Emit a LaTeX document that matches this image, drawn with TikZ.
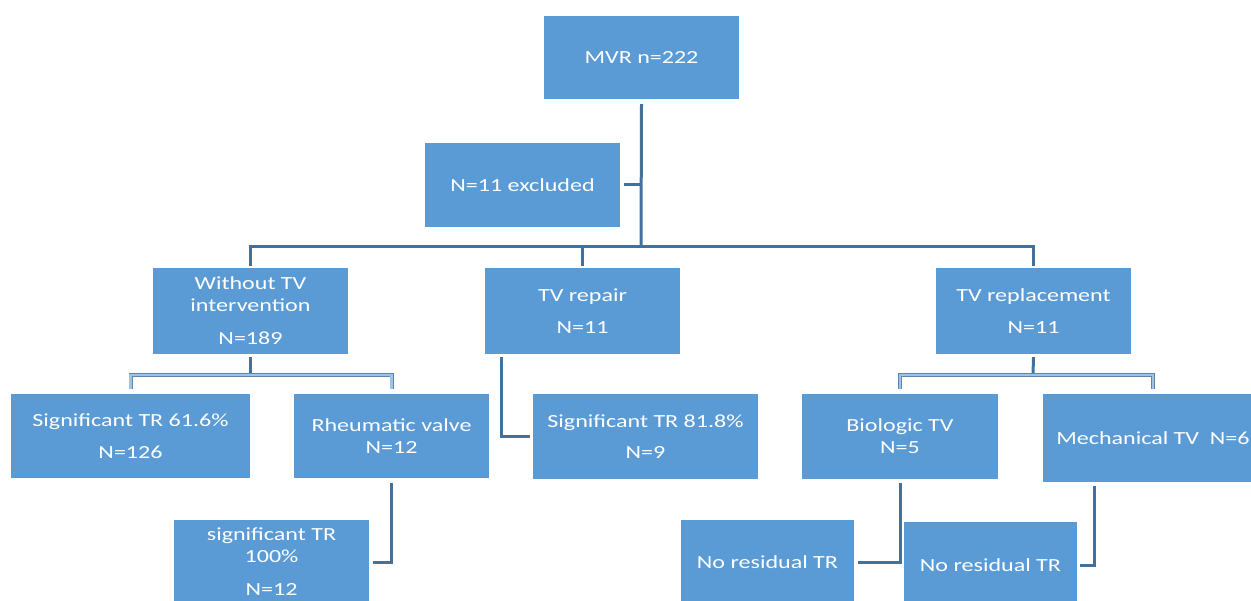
\documentclass[tikz,border=0pt]{standalone}
\usepackage{fontspec}
\setmainfont{Carlito}[FakeStretch=1.3]
\definecolor{boxblue}{HTML}{5B9BD5}
\definecolor{linedark}{HTML}{41719C}
\definecolor{linelight}{HTML}{9DC3E6}
\begin{document}
\begin{tikzpicture}[x=1pt,y=-1pt,
  box/.style={fill=boxblue, text=white, align=center, inner sep=0pt, font=\fontsize{18.5}{22}\selectfont},
  conn/.style={draw=linedark, line width=3pt},
  bus/.style={draw=linedark!85, line width=0.9pt, double=linelight, double distance=2.2pt}]
\useasboundingbox (0,0) rectangle (1251,601);
% boxes
\node[box, minimum width=195pt, minimum height=83pt] (mvr) at (641.5,57.5) {MVR n=222};
\node[box, minimum width=195pt, minimum height=84pt] (excl) at (522.5,185) {N=11 excluded};
\node[box, minimum width=195pt, minimum height=86pt] (wo) at (250.5,311) {Without TV\\intervention\\[11pt]N=189};
\node[box, minimum width=195pt, minimum height=86pt] (rep) at (582.5,311) {TV repair\\[10pt]N=11};
\node[box, minimum width=195pt, minimum height=86pt] (repl) at (1033.5,311) {TV replacement\\[10pt]N=11};
\node[box, minimum width=239pt, minimum height=84pt] (sig1) at (130.5,436) {Significant TR 61.6\%\\[10pt]N=126};
\node[box, minimum width=195pt, minimum height=84pt] (rheu) at (391.5,436) {Rheumatic valve\\N=12};
\node[box, minimum width=195pt, minimum height=84pt] (sig100) at (271.5,562) {significant TR\\100\%\\[11pt]N=12};
\node[box, minimum width=225pt, minimum height=85pt] (sig818) at (645.5,436.5) {Significant TR 81.8\%\\[9pt]N=9};
\node[box, minimum width=196pt, minimum height=85pt] (bio) at (900,436.5) {Biologic TV\\N=5};
\node[box, minimum width=220pt, minimum height=88pt] (mech) at (1153,438) {Mechanical TV\ \ N=6};
\node[box, minimum width=173pt, minimum height=84pt] (nores1) at (767.5,562) {No residual TR};
\node[box, minimum width=173pt, minimum height=86pt] (nores2) at (990.5,565) {No residual TR};
% bus points
\coordinate (b1) at (641,247);
\coordinate (b2) at (250,375);
\coordinate (b3) at (1033,375);
% connectors
\draw[conn] ([yshift=-5pt]mvr.south) -- (b1);
\draw[conn] ([xshift=4pt]excl.east) -- (excl.east -| b1);
\draw[conn] ([yshift=2pt]wo.north) -- (wo.north |- b1) -- (repl.north |- b1) -- ([yshift=2pt]repl.north);
\draw[conn] (rep.north |- b1) -- ([yshift=2pt]rep.north);
\draw[conn] ([yshift=-3pt]wo.south) -- (wo.south |- b2);
\draw[bus] ([yshift=5pt]sig1.north) -- (sig1.north |- b2) -- (rheu.north |- b2) -- ([yshift=5pt]rheu.north);
\draw[conn] ([yshift=-5pt]rheu.south) |- ([xshift=4pt]sig100.east);
\draw[conn] ([xshift=17pt,yshift=-3pt]rep.south west) |- ([xshift=-3pt]sig818.west);
\draw[conn] ([yshift=-3pt]repl.south) -- (b3);
\draw[bus] ([yshift=5pt]bio.north) -- (bio.north |- b3) -- (mech.north |- b3) -- ([yshift=5pt]mech.north);
\draw[conn] ([yshift=-4pt]bio.south) |- ([xshift=4pt]nores1.east);
\draw[conn] ([xshift=52pt,yshift=-4pt]mech.south west) |- ([xshift=3pt]nores2.east);
\end{tikzpicture}
\end{document}
